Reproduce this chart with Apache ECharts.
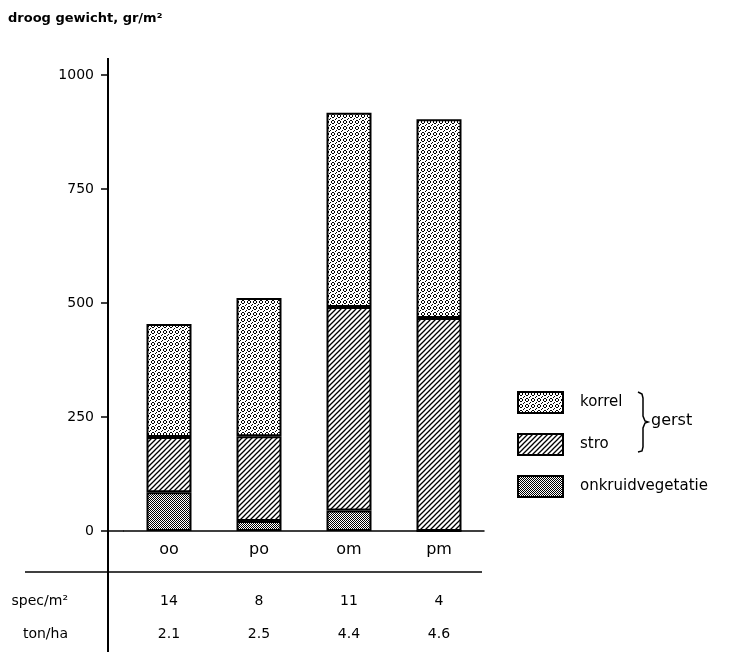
<!DOCTYPE html>
<html>
<head>
<meta charset="utf-8">
<script src="https://cdn.jsdelivr.net/npm/echarts@6/dist/echarts.min.js"></script>
<style>
  html, body { margin: 0; padding: 0; background: #fff; }
  #chart { width: 737px; height: 652px; }
</style>
</head>
<body>
<div id="chart"></div>
<script>
// droog gewicht per object, gr/m2 (stacked: onkruid at the bottom, then stro, then korrel)
const categories = ['oo', 'po', 'om', 'pm'];
const onkruidvegetatie = [85, 22, 45, 0];
const stro = [121, 186, 446, 467];
const korrel = [248, 303, 426, 436];

// table under the chart
const specPerM2 = ['14', '8', '11', '4'];
const tonPerHa = ['2.1', '2.5', '4.4', '4.6'];
const rowLabels = ['spec/m²', 'ton/ha'];

const FONT = 'DejaVu Sans';

// small bitmap tiles used as fills (the original is a hatched b/w print)
function tile(size, draw) {
  const c = document.createElement('canvas');
  c.width = size;
  c.height = size;
  const ctx = c.getContext('2d');
  ctx.fillStyle = '#fff';
  ctx.fillRect(0, 0, size, size);
  ctx.fillStyle = '#000';
  ctx.strokeStyle = '#000';
  draw(ctx);
  return { image: c, repeat: 'repeat' };
}

// korrel: little rings of dots
const korrelFill = tile(6, ctx => {
  [[2, 0], [3, 0], [1, 1], [4, 1], [1, 2], [4, 2], [2, 3], [3, 3]].forEach(p => ctx.fillRect(p[0], p[1], 1, 1));
  ctx.fillRect(0, 4, 1, 1);
  ctx.fillRect(5, 5, 1, 1);
});
// stro: diagonal hatch
const stroFill = tile(5, ctx => {
  ctx.lineWidth = 1.3;
  ctx.beginPath();
  ctx.moveTo(-1, 6); ctx.lineTo(6, -1);
  ctx.moveTo(-1, 1); ctx.lineTo(1, -1);
  ctx.moveTo(4, 6); ctx.lineTo(6, 4);
  ctx.stroke();
});
// onkruid: dense checker
const onkruidFill = tile(4, ctx => {
  for (let y = 0; y < 4; y++) {
    for (let x = 0; x < 4; x++) {
      if ((x + y) % 2 === 0) ctx.fillRect(x, y, 1, 1);
    }
  }
  ctx.fillRect(1, 1, 1, 1);
  ctx.fillRect(3, 3, 1, 1);
});

const chart = echarts.init(document.getElementById('chart'), null, { renderer: 'canvas' });

const barStyle = fill => ({ color: fill, borderColor: '#000', borderWidth: 2 });

const option = {
  backgroundColor: '#fff',
  animation: false,
  textStyle: { fontFamily: FONT, color: '#000' },
  grid: { left: 124, right: 253, top: 75, bottom: 121 },
  legend: {
    orient: 'vertical',
    left: 512,
    top: 386,
    itemWidth: 45,
    itemHeight: 21,
    itemGap: 19,
    icon: 'rect',
    data: ['korrel', 'stro', 'onkruidvegetatie'],
    textStyle: { fontFamily: FONT, fontSize: 15, color: '#000', padding: [0, 0, 0, 12] }
  },
  xAxis: [
    {
      type: 'category',
      data: categories,
      axisLine: { lineStyle: { color: '#000', width: 1.5 } },
      axisTick: { show: false },
      axisLabel: { fontFamily: FONT, fontSize: 16, color: '#000', margin: 11 }
    },
    {
      type: 'category',
      data: specPerM2,
      position: 'bottom',
      offset: 70,
      name: rowLabels[0],
      nameLocation: 'start',
      nameGap: 56,
      nameTextStyle: { fontFamily: FONT, fontSize: 14, color: '#000', align: 'right', verticalAlign: 'middle' },
      axisLine: { show: false },
      axisTick: { show: false },
      axisLabel: { fontFamily: FONT, fontSize: 14, color: '#000', margin: 0, verticalAlign: 'middle' }
    },
    {
      type: 'category',
      data: tonPerHa,
      position: 'bottom',
      offset: 103,
      name: rowLabels[1],
      nameLocation: 'start',
      nameGap: 56,
      nameTextStyle: { fontFamily: FONT, fontSize: 14, color: '#000', align: 'right', verticalAlign: 'middle' },
      axisLine: { show: false },
      axisTick: { show: false },
      axisLabel: { fontFamily: FONT, fontSize: 14, color: '#000', margin: 0, verticalAlign: 'middle' }
    }
  ],
  yAxis: {
    type: 'value',
    min: 0,
    max: 1000,
    interval: 250,
    offset: 16,
    axisLine: { show: true, lineStyle: { color: '#000', width: 2 } },
    axisTick: { show: true, length: 7, lineStyle: { color: '#000', width: 1.5 } },
    axisLabel: { fontFamily: FONT, fontSize: 14, color: '#000', margin: 14, formatter: v => String(v) },
    splitLine: { show: false }
  },
  series: [
    { name: 'onkruidvegetatie', type: 'bar', stack: 'w', barWidth: 45, data: onkruidvegetatie, itemStyle: barStyle(onkruidFill) },
    { name: 'stro', type: 'bar', stack: 'w', barWidth: 45, data: stro, itemStyle: barStyle(stroFill) },
    { name: 'korrel', type: 'bar', stack: 'w', barWidth: 45, data: korrel, itemStyle: barStyle(korrelFill) }
  ],
  graphic: [
    // title above the axis
    { type: 'text', left: 8, top: 12, style: { text: 'droog gewicht, gr/m²', font: 'bold 13px "DejaVu Sans"', fill: '#000' } },
    // axis line continues above 1000 and down through the table
    { type: 'line', shape: { x1: 108, y1: 58, x2: 108, y2: 75 }, style: { stroke: '#000', lineWidth: 2 } },
    { type: 'line', shape: { x1: 108, y1: 531, x2: 108, y2: 652 }, style: { stroke: '#000', lineWidth: 2 } },
    { type: 'line', shape: { x1: 108, y1: 531, x2: 124, y2: 531 }, style: { stroke: '#000', lineWidth: 1.5 } },
    // rule between category names and the table
    { type: 'line', shape: { x1: 25, y1: 572, x2: 482, y2: 572 }, style: { stroke: '#000', lineWidth: 1.5 } },
    // brace grouping korrel + stro as gerst
    {
      type: 'polyline',
      shape: { points: [[638, 392], [642, 394], [643, 398], [643, 416], [645, 421], [648, 422], [645, 423], [643, 428], [643, 447], [642, 451], [638, 452]] },
      style: { fill: null, stroke: '#000', lineWidth: 1.5 }
    },
    { type: 'text', left: 651, top: 413, style: { text: 'gerst', font: '16px "DejaVu Sans"', fill: '#000' } }
  ]
};

chart.setOption(option);
</script>
</body>
</html>
